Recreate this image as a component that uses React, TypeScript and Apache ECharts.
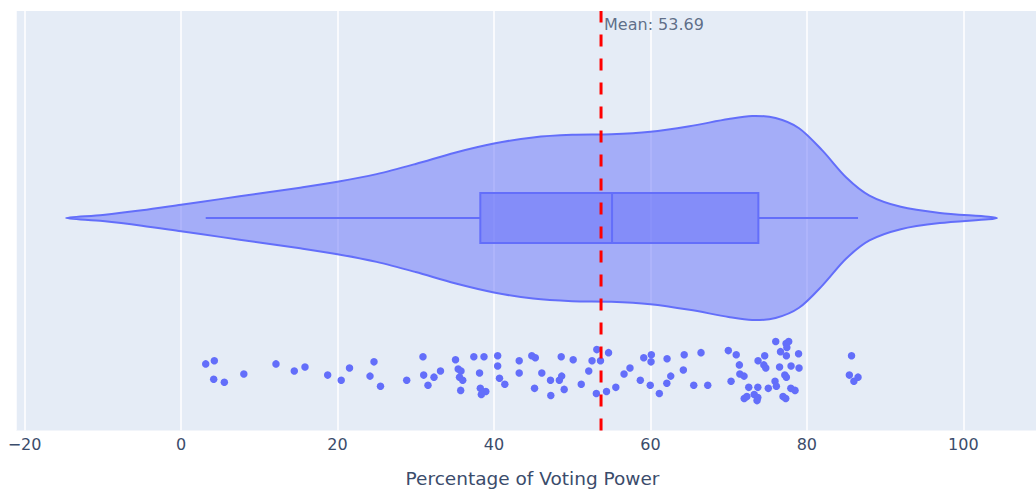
import React, { useEffect, useRef } from "react";
import * as echarts from "echarts";

// Jittered sample points (value, jitter offset)
const PTS_X = [3.16, 4.26, 4.18, 5.54, 8.03, 12.14, 14.48, 15.85, 18.75, 20.48, 21.54, 24.67, 24.16, 25.5,
  28.85, 30.93, 31.02, 31.57, 32.34, 33.17, 35.09, 35.43, 35.79, 35.6, 36.01, 35.75, 37.43, 38.73, 38.16, 38.26,
  38.96, 38.39, 40.48, 40.48, 40.71, 41.39, 43.23, 43.23, 44.84, 45.29, 45.19, 46.12, 47.23, 47.27, 48.6, 48.36,
  48.66, 48.98, 50.13, 51.16, 52.12, 52.54, 53.15, 53.62, 54.65, 53.09, 54.39, 55.58, 56.63, 57.39, 58.71, 59.15,
  60.12, 60.08, 59.98, 61.14, 62.13, 62.1, 62.6, 64.32, 64.21, 65.54, 66.47, 67.33, 69.96, 70.97, 71.37, 70.31,
  71.43, 71.97, 72.57, 73.76, 74.61, 74.5, 74.75, 73.73, 71.99, 72.33, 73.27, 73.73, 73.63, 75.07, 75.93, 76.1,
  76.02, 77.34, 77.68, 77.44, 76.63, 77.38, 78.94, 76.51, 77.98, 79.0, 77.18, 77.38, 77.95, 78.49, 76.95, 77.3,
  85.71, 85.43, 86.01, 86.54];
const PTS_Y = [-1.43, -1.4, -1.58, -1.61, -1.53, -1.43, -1.5, -1.46, -1.54, -1.59, -1.47, -1.41, -1.55, -1.65,
  -1.59, -1.36, -1.54, -1.64, -1.56, -1.5, -1.39, -1.48, -1.5, -1.56, -1.59, -1.69, -1.36, -1.36, -1.52, -1.67,
  -1.7, -1.73, -1.35, -1.45, -1.57, -1.63, -1.4, -1.52, -1.35, -1.37, -1.67, -1.52, -1.59, -1.74, -1.36, -1.59,
  -1.55, -1.68, -1.39, -1.63, -1.5, -1.4, -1.29, -1.4, -1.32, -1.72, -1.7, -1.66, -1.53, -1.47, -1.59, -1.37,
  -1.34, -1.41, -1.64, -1.72, -1.38, -1.62, -1.55, -1.34, -1.49, -1.64, -1.32, -1.64, -1.3, -1.34, -1.44, -1.6,
  -1.53, -1.55, -1.66, -1.4, -1.35, -1.44, -1.47, -1.66, -1.77, -1.75, -1.73, -1.76, -1.79, -1.67, -1.6, -1.65,
  -1.21, -1.23, -1.21, -1.27, -1.31, -1.35, -1.33, -1.46, -1.45, -1.47, -1.54, -1.56, -1.67, -1.69, -1.75, -1.77,
  -1.35, -1.54, -1.6, -1.56];

// Violin density outline (value, half-width)
const VIOLIN_X = [-14.7, -10, -5, 0, 5, 10, 15, 20, 25, 30, 35, 40, 45, 50, 55, 60, 65, 70, 73, 76, 79, 82,
  85, 88, 92, 97, 104.3];
const VIOLIN_W = [0, 0.03, 0.075, 0.13, 0.185, 0.24, 0.295, 0.355, 0.43, 0.53, 0.64, 0.73, 0.79, 0.815, 0.82,
  0.845, 0.9, 0.97, 1.0, 0.98, 0.88, 0.66, 0.4, 0.22, 0.11, 0.05, 0];

// min, q1, median, q3, max
const BOX_STATS = [3.16, 38.26, 55.1, 73.8, 86.54];
const MEAN = 53.69;
const X_RANGE = [-21.09, 110.95];
const Y_RANGE = [-2.083, 2.029];
const BOX_HALF = 0.245;
const LABEL_Y = 1.895;

export default function App() {
  const ref = useRef<HTMLDivElement>(null);
  useEffect(() => {
    const chart = echarts.init(ref.current!, null, { renderer: "svg" });
    const font = "DejaVu Sans";
    const textColor = "#3b4c6b";
    const blue = "#636efa";
    const fillBlue = "rgba(99,110,250,0.5)";
    chart.setOption({
      animation: false,
      grid: {
        left: 16,
        right: 0,
        top: 11,
        bottom: 58.5,
        show: true,
        backgroundColor: "#E5ECF6",
        borderWidth: 0,
        outerBoundsMode: "none",
        containLabel: false,
      },
      xAxis: {
        type: "value",
        min: X_RANGE[0],
        max: X_RANGE[1],
        splitNumber: 6,
        axisLine: { show: false },
        axisTick: { show: false },
        splitLine: { show: true, lineStyle: { color: "#ffffff", width: 1.5 } },
        axisLabel: {
          showMinLabel: false,
          showMaxLabel: false,
          color: textColor,
          fontFamily: font,
          fontSize: 16,
          margin: 6,
          formatter: (v: number) => (v < 0 ? "\u2212" + Math.abs(v) : String(v)),
        },
        name: "Percentage of Voting Power",
        nameLocation: "middle",
        nameGap: 38,
        nameTextStyle: { color: textColor, fontFamily: font, fontSize: 18.5 },
      },
      yAxis: {
        type: "value",
        min: Y_RANGE[0],
        max: Y_RANGE[1],
        show: false,
        splitLine: { show: false },
      },
      series: [
        {
          type: "custom",
          z: 1,
          silent: true,
          data: [[0, 0]],
          renderItem: (_p: any, api: any) => {
            const upper = VIOLIN_X.map((x, i) => api.coord([x, VIOLIN_W[i]]));
            const lower = VIOLIN_X.map((x, i) => api.coord([x, -VIOLIN_W[i]])).reverse();
            return {
              type: "polygon",
              shape: { points: upper.concat(lower.slice(1, -1)), smooth: 0.3 },
              style: { fill: fillBlue, stroke: blue, lineWidth: 2 },
            };
          },
        },
        {
          type: "custom",
          z: 2,
          silent: true,
          data: [[0, 0]],
          renderItem: (_p: any, api: any) => {
            const [mn, q1, md, q3, mx] = BOX_STATS;
            const tl = api.coord([q1, BOX_HALF]);
            const br = api.coord([q3, -BOX_HALF]);
            const m1 = api.coord([md, BOX_HALF]);
            const m2 = api.coord([md, -BOX_HALF]);
            const w1 = api.coord([mn, 0]);
            const w2 = api.coord([q1, 0]);
            const w3 = api.coord([q3, 0]);
            const w4 = api.coord([mx, 0]);
            const ls = { stroke: blue, lineWidth: 2 };
            return {
              type: "group",
              children: [
                { type: "line", shape: { x1: w1[0], y1: w1[1], x2: w2[0], y2: w2[1] }, style: ls },
                { type: "line", shape: { x1: w3[0], y1: w3[1], x2: w4[0], y2: w4[1] }, style: ls },
                {
                  type: "rect",
                  shape: { x: tl[0], y: tl[1], width: br[0] - tl[0], height: br[1] - tl[1] },
                  style: { fill: fillBlue, stroke: blue, lineWidth: 2 },
                },
                { type: "line", shape: { x1: m1[0], y1: m1[1], x2: m2[0], y2: m2[1] }, style: ls },
              ],
            };
          },
        },
        {
          type: "scatter",
          z: 3,
          silent: true,
          symbolSize: 7.5,
          itemStyle: { color: blue, opacity: 1 },
          data: PTS_X.map((x, i) => [x, PTS_Y[i]]),
        },
        {
          type: "line",
          z: 4,
          silent: true,
          symbol: "none",
          lineStyle: { color: "#ff0000", width: 3, type: [12, 12] },
          data: [
            [MEAN, Y_RANGE[0]],
            [MEAN, Y_RANGE[1]],
          ],
        },
        {
          type: "scatter",
          z: 5,
          silent: true,
          symbolSize: 2,
          itemStyle: { color: "rgba(0,0,0,0)" },
          label: {
            show: true,
            position: "right",
            distance: 2,
            color: textColor,
            fontFamily: font,
            fontSize: 16,
            formatter: () => "Mean: " + MEAN.toFixed(2),
          },
          data: [[MEAN, LABEL_Y]],
        },
      ],
    });
    return () => chart.dispose();
  }, []);
  return (
    <div
      style={{
        position: "fixed",
        left: 0,
        top: 0,
        width: 1036,
        height: 489,
        overflow: "hidden",
        background: "#ffffff",
      }}
    >
      <div ref={ref} style={{ width: 1049, height: 489 }} />
    </div>
  );
}
